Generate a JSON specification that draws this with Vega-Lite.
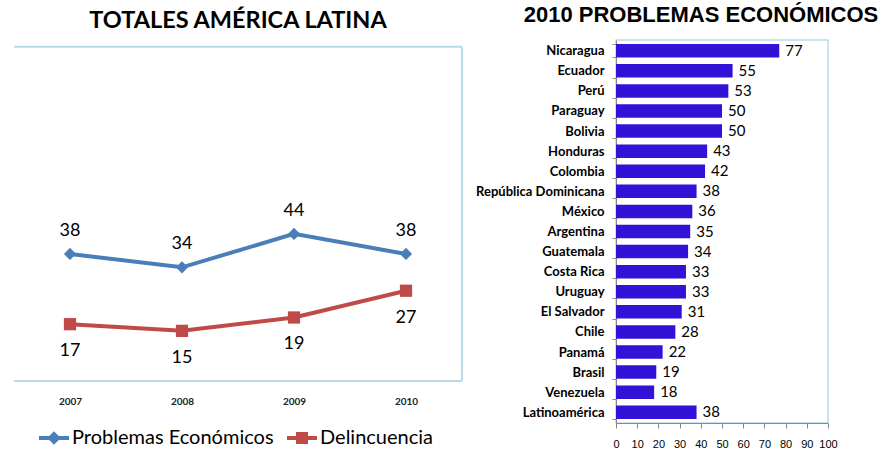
{
  "$schema": "https://vega.github.io/schema/vega-lite/v6.json",
  "padding": {"left": 13, "top": 3, "right": 0, "bottom": 0},
  "background": "white",
  "config": {"view": {"stroke": null}, "font": "Lato"},
  "bounds": "flush",
  "spacing": 154,
  "hconcat": [
    {
      "width": 448,
      "height": 341,
      "title": {"text": "TOTALES  AMÉRICA LATINA", "font": "Lato", "fontSize": 23.5, "fontWeight": "bold", "color": "black", "offset": 8},
      "data": {"values": [
        {"anio": 2007, "serie": "Problemas Económicos", "valor": 38},
        {"anio": 2008, "serie": "Problemas Económicos", "valor": 34},
        {"anio": 2009, "serie": "Problemas Económicos", "valor": 44},
        {"anio": 2010, "serie": "Problemas Económicos", "valor": 38},
        {"anio": 2007, "serie": "Delincuencia", "valor": 17},
        {"anio": 2008, "serie": "Delincuencia", "valor": 15},
        {"anio": 2009, "serie": "Delincuencia", "valor": 19},
        {"anio": 2010, "serie": "Delincuencia", "valor": 27}
      ]},
      "layer": [
        {
          "data": {"values": [{}]},
          "mark": {"type": "rule", "color": "#b7dde8", "strokeWidth": 2},
          "encoding": {"y": {"datum": 100, "type": "quantitative"}, "x": {"datum": 2006.5, "type": "quantitative"}, "x2": {"datum": 2010.5}}
        },
        {
          "data": {"values": [{}]},
          "mark": {"type": "rule", "color": "#b7dde8", "strokeWidth": 2},
          "encoding": {"y": {"datum": 0, "type": "quantitative"}, "x": {"datum": 2006.5, "type": "quantitative"}, "x2": {"datum": 2010.5}}
        },
        {
          "data": {"values": [{}]},
          "mark": {"type": "rule", "color": "#b7dde8", "strokeWidth": 2},
          "encoding": {"x": {"datum": 2010.5, "type": "quantitative"}, "y": {"datum": 0, "type": "quantitative"}, "y2": {"datum": 100}}
        },
        {
          "mark": {"type": "line", "strokeWidth": 4},
          "encoding": {
            "x": {"field": "anio", "type": "quantitative"},
            "y": {"field": "valor", "type": "quantitative"},
            "color": {"field": "serie", "type": "nominal"}
          }
        },
        {
          "transform": [{"filter": "datum.serie === 'Problemas Económicos'"}],
          "mark": {"type": "point", "filled": true, "opacity": 1, "shape": "diamond", "size": 150},
          "encoding": {
            "x": {"field": "anio", "type": "quantitative"},
            "y": {"field": "valor", "type": "quantitative"},
            "color": {"field": "serie", "type": "nominal"}
          }
        },
        {
          "transform": [{"filter": "datum.serie === 'Delincuencia'"}],
          "mark": {"type": "point", "filled": true, "opacity": 1, "shape": "square", "size": 150},
          "encoding": {
            "x": {"field": "anio", "type": "quantitative"},
            "y": {"field": "valor", "type": "quantitative"},
            "color": {"field": "serie", "type": "nominal"}
          }
        },
        {
          "transform": [{"filter": "datum.serie === 'Problemas Económicos'"}],
          "mark": {"type": "text", "dy": -23, "fontSize": 18, "font": "Lato", "color": "black"},
          "encoding": {
            "x": {"field": "anio", "type": "quantitative"},
            "y": {"field": "valor", "type": "quantitative"},
            "text": {"field": "valor"}
          }
        },
        {
          "transform": [{"filter": "datum.serie === 'Delincuencia'"}],
          "mark": {"type": "text", "dy": 27, "fontSize": 18, "font": "Lato", "color": "black"},
          "encoding": {
            "x": {"field": "anio", "type": "quantitative"},
            "y": {"field": "valor", "type": "quantitative"},
            "text": {"field": "valor"}
          }
        }
      ],
      "encoding": {
        "x": {"type": "quantitative", "scale": {"domain": [2006.5, 2010.5], "nice": false, "zero": false},
          "axis": {"title": null, "values": [2007, 2008, 2009, 2010], "format": "d", "domain": false, "ticks": false, "grid": false, "labelPadding": 15, "labelFont": "Lato", "labelFontSize": 10, "labelFontWeight": "bold", "labelColor": "#222"}},
        "y": {"type": "quantitative", "scale": {"domain": [0, 102], "nice": false}, "axis": null},
        "color": {"type": "nominal", "scale": {"domain": ["Problemas Económicos", "Delincuencia"], "range": ["#4a7ebb", "#be4b48"]},
          "legend": {
            "title": null, "orient": "none", "direction": "horizontal", "legendX": 25, "legendY": 383,
            "symbolType": "M-1,-0.13H1V0.13H-1Z M0,-0.45L0.45,0L0,0.45L-0.45,0Z",
            "symbolSize": 900, "symbolStrokeWidth": 0, "labelFontSize": 20, "labelFont": "Lato", "labelColor": "black", "labelOffset": 3, "columnPadding": 13, "labelLimit": 0,
            "encode": {"symbols": {"update": {
              "shape": {"signal": "datum.value === 'Delincuencia' ? 'M-1,-0.13H1V0.13H-1Z M-0.4,-0.4H0.4V0.4H-0.4Z' : 'M-1,-0.13H1V0.13H-1Z M0,-0.45L0.45,0L0,0.45L-0.45,0Z'"},
              "fill": {"signal": "datum.value === 'Delincuencia' ? '#be4b48' : '#4a7ebb'"},
              "opacity": {"value": 1}
            }}}
          }}
      }
    },
    {
      "width": 212,
      "height": 383,
      "view": {"stroke": "#b7dde8", "strokeWidth": 1.5},
      "title": {"text": "2010 PROBLEMAS ECONÓMICOS", "font": "Liberation Sans", "fontSize": 22, "fontWeight": "bold", "color": "black", "offset": 7, "dx": -21},
      "data": {"values": [
        {"pais": "Nicaragua", "valor": 77},
        {"pais": "Ecuador", "valor": 55},
        {"pais": "Perú", "valor": 53},
        {"pais": "Paraguay", "valor": 50},
        {"pais": "Bolivia", "valor": 50},
        {"pais": "Honduras", "valor": 43},
        {"pais": "Colombia", "valor": 42},
        {"pais": "República Dominicana", "valor": 38},
        {"pais": "México", "valor": 36},
        {"pais": "Argentina", "valor": 35},
        {"pais": "Guatemala", "valor": 34},
        {"pais": "Costa Rica", "valor": 33},
        {"pais": "Uruguay", "valor": 33},
        {"pais": "El Salvador", "valor": 31},
        {"pais": "Chile", "valor": 28},
        {"pais": "Panamá", "valor": 22},
        {"pais": "Brasil", "valor": 19},
        {"pais": "Venezuela", "valor": 18},
        {"pais": "Latinoamérica", "valor": 38}
      ]},
      "encoding": {
        "y": {"field": "pais", "type": "nominal", "sort": null, "scale": {"paddingInner": 0.33, "paddingOuter": 0.2},
          "axis": {"title": null, "labelFont": "Lato", "labelFontWeight": "bold", "labelFontSize": 13, "labelColor": "black", "domainColor": "#888", "tickColor": "#888", "tickSize": 4, "tickBand": "extent", "labelPadding": 8}},
        "x": {"field": "valor", "type": "quantitative", "scale": {"domain": [0, 100], "nice": false},
          "axis": {"title": null, "values": [0, 10, 20, 30, 40, 50, 60, 70, 80, 90, 100], "grid": false, "domainColor": "#888", "tickColor": "#888", "tickSize": 5, "labelPadding": 10, "labelFont": "Liberation Sans", "labelFontSize": 11, "labelColor": "black", "labelOverlap": false, "labelFlush": false}}
      },
      "layer": [
        {"mark": {"type": "bar", "color": "#3311d6"}},
        {"mark": {"type": "text", "align": "left", "dx": 6, "fontSize": 15, "font": "Lato", "color": "black"}, "encoding": {"text": {"field": "valor"}}}
      ]
    }
  ]
}
